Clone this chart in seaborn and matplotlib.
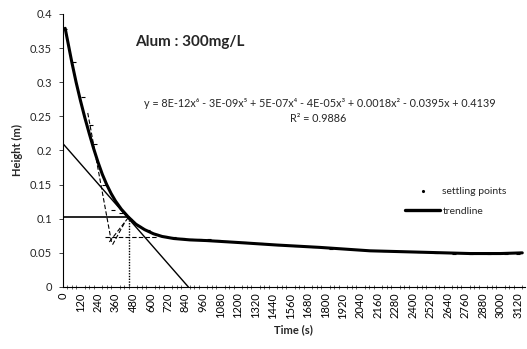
import numpy as np
import pandas as pd
import seaborn as sns
import matplotlib.pyplot as plt
from matplotlib.ticker import MultipleLocator
from matplotlib.lines import Line2D

# Data (time in s, height in m)
trend_t = [15, 60, 90, 120, 150, 180, 210, 240, 270, 300, 330, 360, 400, 446, 500,
           560, 620, 680, 760, 870, 985, 1214, 1465, 1762, 2105, 2448, 2791, 3000, 3150]
trend_h = [0.379, 0.330, 0.300, 0.273, 0.248, 0.225, 0.203, 0.183, 0.165, 0.150,
           0.137, 0.126, 0.114, 0.103, 0.092, 0.084, 0.078, 0.074, 0.071, 0.069,
           0.068, 0.065, 0.0615, 0.058, 0.053, 0.051, 0.049, 0.049, 0.050]

settle_t = [15, 75, 136, 191, 218, 280, 341, 400, 460, 520, 580, 640, 700, 760,
            820, 880, 940, 1000, 1060, 1120, 1240, 1360, 1480, 1600, 1720, 1840,
            1960, 2080, 2200, 2320, 2440, 2560, 2680, 2800, 2920, 3040, 3120]
settle_h = [0.378, 0.329, 0.278, 0.238, 0.209, 0.150, 0.113, 0.108, 0.100, 0.090,
            0.083, 0.078, 0.075, 0.073, 0.072, 0.071, 0.070, 0.070, 0.069, 0.068,
            0.066, 0.064, 0.062, 0.060, 0.058, 0.056, 0.055, 0.054, 0.052, 0.052,
            0.051, 0.050, 0.049, 0.048, 0.049, 0.049, 0.049]

# graphical construction lines
tangent_t, tangent_h = [0, 860], [0.21, 0.0]
h_line_t, h_line_h = [0, 453], [0.103, 0.103]
v_line_t, v_line_h = [453, 453], [0.103, 0.0]
dash1_t, dash1_h = [170, 335], [0.255, 0.063]
dash2_t, dash2_h = [290, 645], [0.0737, 0.0737]
dash3_t, dash3_h = [318, 453], [0.066, 0.103]
dash4_t, dash4_h = [340, 430], [0.062, 0.097]

x_ticks = list(range(0, 3121, 120))
y_ticks = [0, 0.05, 0.1, 0.15, 0.2, 0.25, 0.3, 0.35, 0.4]
y_labels = ["0", "0.05", "0.1", "0.15", "0.2", "0.25", "0.3", "0.35", "0.4"]

sns.set_style("white")
plt.rcParams['font.family'] = ['Lato', 'DejaVu Sans']

fig = plt.figure(figsize=(5.27, 3.49), dpi=100)
ax = fig.add_axes([0.1195, 0.1777, 0.8765, 0.7823])

trend = pd.DataFrame({'t': trend_t, 'h': trend_h})
settle = pd.DataFrame({'t': settle_t, 'h': settle_h})

sns.lineplot(data=trend, x='t', y='h', color='black', linewidth=2.2, ax=ax)
sns.scatterplot(data=settle, x='t', y='h', marker='_', s=10, color='black',
                linewidth=0.8, ax=ax)

ax.plot(tangent_t, tangent_h, color='black', lw=1.0)
ax.plot(h_line_t, h_line_h, color='black', lw=1.2)
ax.plot(v_line_t, v_line_h, color='black', lw=1.0, ls=(0, (1, 1)))
for tt, hh in [(dash1_t, dash1_h), (dash2_t, dash2_h), (dash3_t, dash3_h), (dash4_t, dash4_h)]:
    ax.plot(tt, hh, color='black', lw=0.8, ls=(0, (4, 2)))

ax.set_xlim(0, 3168)
ax.set_ylim(0, 0.4)
ax.set_xticks(x_ticks)
ax.set_xticklabels([str(v) for v in x_ticks], rotation=90, fontsize=8)
ax.xaxis.set_minor_locator(MultipleLocator(30))
ax.set_yticks(y_ticks)
ax.set_yticklabels(y_labels, fontsize=8)
ax.tick_params(axis='x', which='major', direction='inout', length=4, width=0.6, pad=2, colors='black')
ax.tick_params(axis='x', which='minor', direction='inout', length=3, width=0.5, bottom=True)
ax.tick_params(axis='y', which='major', direction='out', length=3, width=0.6, pad=5, left=True)
ax.set_xlabel('Time (s)', fontsize=8, fontweight='bold', labelpad=4)
ax.set_ylabel('Height (m)', fontsize=8, fontweight='bold', labelpad=5)

for side in ['top', 'right']:
    ax.spines[side].set_visible(False)
for side in ['left', 'bottom']:
    ax.spines[side].set_color('black')
    ax.spines[side].set_linewidth(0.8)
ax.spines['left'].set_linestyle((0, (3, 1)))

ax.text(871, 0.359, 'Alum : 300mg/L', fontsize=11, fontweight='bold',
        ha='center', va='center')
ax.text(1762, 0.269, 'y = 8E-12x⁶ - 3E-09x⁵ + 5E-07x⁴ - 4E-05x³ + 0.0018x² - 0.0395x + 0.4139',
        fontsize=7.8, ha='center', va='center', family=['Lato', 'DejaVu Sans'])
ax.text(1749, 0.247, 'R² = 0.9886', fontsize=7.8, ha='center', va='center')

handles = [Line2D([], [], color='black', marker='.', markersize=2.5, linestyle='None'),
           Line2D([], [], color='black', lw=2.4)]
ax.legend(handles, ['settling points', 'trendline'], loc='center left',
          bbox_to_anchor=(0.72, 0.313), frameon=False, fontsize=7.5,
          handlelength=3.4, handletextpad=0.2, labelspacing=1.0)

fig.savefig('out.png', dpi=100)
